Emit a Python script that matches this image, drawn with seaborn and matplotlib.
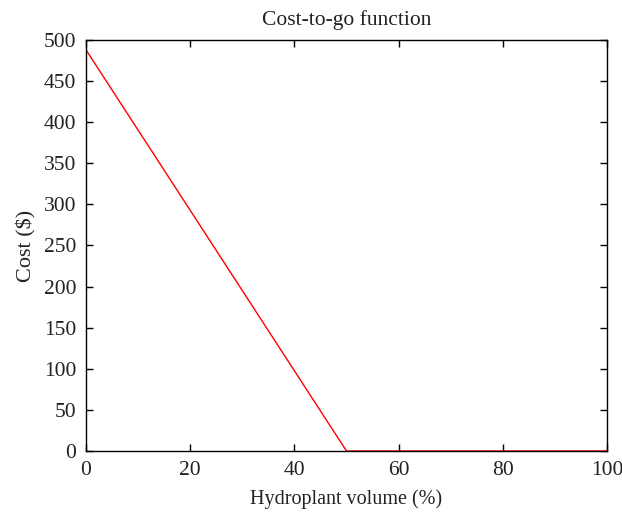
import matplotlib
matplotlib.use("Agg")
import matplotlib.pyplot as plt
import seaborn as sns
import pandas as pd

volume = [0, 50, 100]
cost = [488, 0, 0]

sns.set_theme(style="white")
plt.rcParams['font.family'] = ['Liberation Serif', 'DejaVu Serif']

df = pd.DataFrame({"volume": volume, "cost": cost})

fig = plt.figure(figsize=(6.22, 5.14), dpi=100)
ax = fig.add_axes([86/622, 1-451/514, (607-86)/622, (451-40)/514])
sns.lineplot(data=df, x="volume", y="cost", ax=ax, color="#ff0000", linewidth=1.0)
ax.set_xlim(0, 100)
ax.set_ylim(0, 500)
ax.set_xticks([0, 20, 40, 60, 80, 100])
ax.set_yticks(range(0, 501, 50))
for s in ax.spines.values():
    s.set_color("black")
    s.set_linewidth(1.0)
ax.tick_params(direction="in", length=5, width=1, colors="black", labelsize=15.5,
               top=True, right=True, bottom=True, left=True, labeltop=False, labelright=False, pad=7)
ax.set_xlabel("Hydroplant volume (%)", fontsize=14.5, color="#222222", labelpad=7)
ax.set_ylabel("Cost ($)", fontsize=16, color="#222222", labelpad=5)
ax.set_title("Cost-to-go function", fontsize=15.5, color="#222222", pad=11)
for lab in ax.get_xticklabels() + ax.get_yticklabels():
    lab.set_color("#222222")
fig.savefig("out.png", dpi=100)
